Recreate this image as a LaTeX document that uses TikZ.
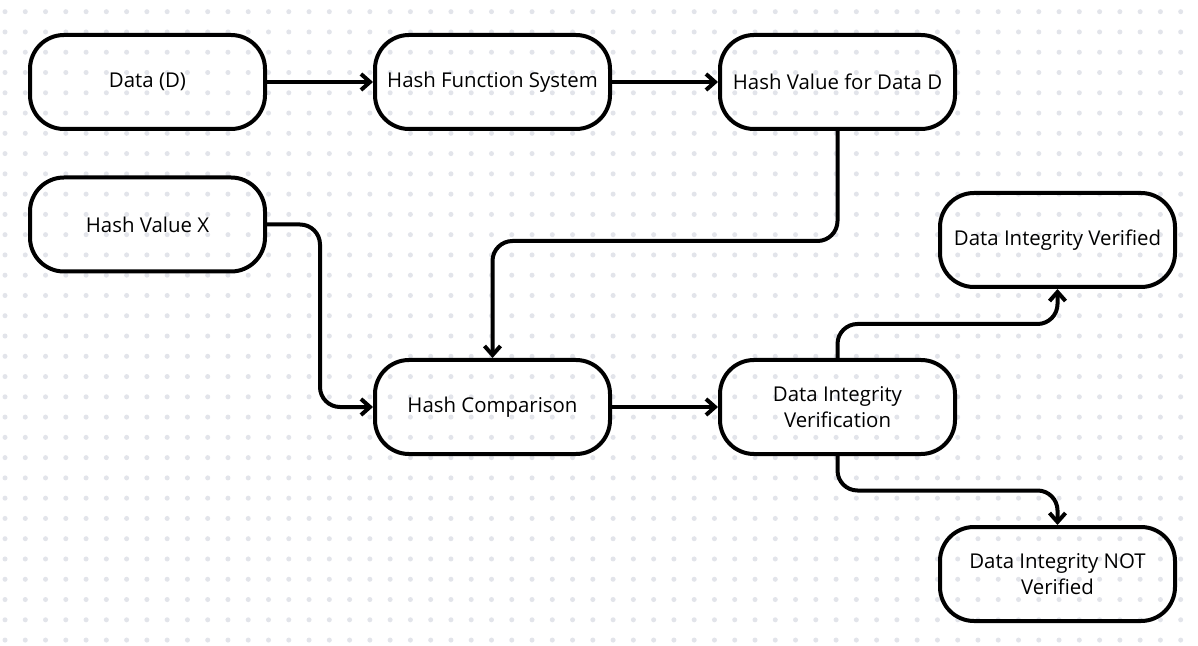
\documentclass[tikz,border=0pt]{standalone}
\usepackage{fontspec}
\setmainfont{Open Sans}
\usetikzlibrary{arrows.meta}
\definecolor{dotc}{HTML}{E2E4EA}
\begin{document}
\begin{tikzpicture}[x=0.5pt,y=-0.5pt,
  box/.style={draw=black, line width=2pt, rounded corners=17pt, minimum width=117.5pt, minimum height=47pt, align=center, font=\fontsize{10.2}{13}\selectfont, inner sep=0pt},
  conn/.style={line width=2pt, rounded corners=10pt, -{Straight Barb[length=4.5pt,width=8pt,line width=2pt]}}]
\useasboundingbox (0,0) rectangle (1198,646);
\fill[white] (0,0) rectangle (1198,646);
\foreach \i in {0,...,58} \foreach \j in {0,...,31} \fill[dotc] (5+20.27*\i, 11.7+20.27*\j) circle (1.25pt);
\node[box] (d) at (147.5,82) {Data (D)};
\node[box] (hfs) at (492.5,82) {Hash Function System};
\node[box] (hvd) at (837.5,82) {Hash Value for Data D};
\node[box] (hvx) at (147.5,224.5) {Hash Value X};
\node[box] (hc) at (492.5,407) {Hash Comparison};
\node[box] (div) at (837.5,407) {Data Integrity\\Verification};
\node[box] (dv) at (1057.5,240) {Data Integrity Verified};
\node[box] (dnv) at (1057.5,574) {Data Integrity NOT\\Verified};
\coordinate (c1) at (837.5,241);
\coordinate (c2) at (320,224.5);
\coordinate (c3) at (837.5,324);
\coordinate (c4) at (837.5,490.5);
\draw[conn] (d) -- (hfs);
\draw[conn] (hfs) -- (hvd);
\draw[conn] (hvd.south) -- (c1) -| (hc.north);
\draw[conn] (hvx.east) -- (c2) |- (hc.west);
\draw[conn] (hc) -- (div);
\draw[conn] (div.north) -- (c3) -| (dv.south);
\draw[conn] (div.south) -- (c4) -| (dnv.north);
\end{tikzpicture}
\end{document}
